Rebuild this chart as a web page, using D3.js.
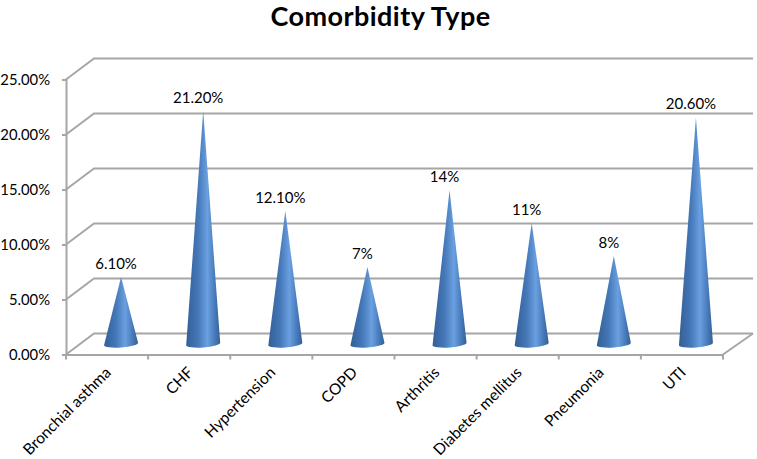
<!DOCTYPE html>
<html>
<head>
<meta charset="utf-8">
<script src="https://d3js.org/d3.v7.min.js"></script>
<style>
html, body { margin: 0; padding: 0; background: #fff; }
svg { display: block; }
text { font-family: Lato, "Open Sans", sans-serif; fill: #000; }
</style>
</head>
<body>
<svg width="757" height="459"></svg>
<script>
var categories = ["Bronchial asthma", "CHF", "Hypertension", "COPD", "Arthritis", "Diabetes mellitus", "Pneumonia", "UTI"];
var values = [6.1, 21.2, 12.1, 7, 14, 11, 8, 20.6];
var valueLabels = ["6.10%", "21.20%", "12.10%", "7%", "14%", "11%", "8%", "20.60%"];
var yTicks = [0, 5, 10, 15, 20, 25];

var svg = d3.select("svg");
var gray = "#a6a6a6";

// 3d offset of the back wall
var depthX = 28, depthY = -21;

var x = d3.scaleBand().domain(categories).range([66, 723]);
var y = d3.scaleLinear().domain([0, 25]).range([354.5, 79.5]);

svg.append("text")
	.attr("x", 380.5).attr("y", 26)
	.attr("text-anchor", "middle")
	.attr("font-size", 27).attr("font-weight", 700)
	.attr("letter-spacing", 0.45)
	.text("Comorbidity Type");

// walls
var walls = svg.append("g").attr("fill", "none").attr("stroke", gray).attr("stroke-width", 2);

walls.selectAll(".grid").data(yTicks).enter().append("path")
	.attr("class", "grid")
	.attr("d", function(d) {
		return "M" + x.range()[0] + "," + y(d) +
			"L" + (x.range()[0] + depthX) + "," + (y(d) + depthY) +
			"H" + (x.range()[1] + depthX + 2);
	});

walls.append("path")
	.attr("d", "M" + x.range()[1] + "," + y(0) + "L" + (x.range()[1] + depthX + 2) + "," + (y(0) + depthY));

// front axes
var yAxis = d3.axisLeft(y).tickValues(yTicks).tickSize(4).tickPadding(12)
	.tickFormat(function(d) { return d3.format(".2f")(d) + "%"; });
var gy = svg.append("g").attr("transform", "translate(" + x.range()[0] + ",0)").call(yAxis);
gy.select(".domain").attr("stroke", gray).attr("stroke-width", 2);
gy.selectAll("line").attr("stroke", gray).attr("stroke-width", 2);
gy.selectAll("text").attr("font-size", 14.8).style("font-family", "Lato");

var xAxis = d3.axisBottom(x).tickSize(0).tickFormat("");
var gx = svg.append("g").attr("transform", "translate(0," + y(0) + ")").call(xAxis);
gx.select(".domain").attr("stroke", gray).attr("stroke-width", 2);

gx.selectAll(".edge").data(d3.range(categories.length + 1)).enter().append("line")
	.attr("class", "edge")
	.attr("x1", function(i) { return x.range()[0] + i * x.bandwidth(); })
	.attr("x2", function(i) { return x.range()[0] + i * x.bandwidth(); })
	.attr("y1", 0).attr("y2", 5)
	.attr("stroke", gray).attr("stroke-width", 2);

// cone shading
var defs = svg.append("defs");
var grad = defs.append("linearGradient").attr("id", "cone").attr("x1", 0).attr("x2", 1).attr("y1", 0).attr("y2", 0);
grad.append("stop").attr("offset", "0%").attr("stop-color", "#345f96");
grad.append("stop").attr("offset", "35%").attr("stop-color", "#4478b8");
grad.append("stop").attr("offset", "62%").attr("stop-color", "#6a9fe0");
grad.append("stop").attr("offset", "85%").attr("stop-color", "#4679ba");
grad.append("stop").attr("offset", "100%").attr("stop-color", "#33608f");

var coneR = 17, coneRy = 3.5;
var zeroY = y(0) + depthY / 2;

svg.selectAll(".cone").data(values).enter().append("path")
	.attr("class", "cone")
	.attr("fill", "url(#cone)")
	.attr("d", function(d, i) {
		var cx = x(categories[i]) + x.bandwidth() / 2 + depthX / 2;
		var tip = y(d) + depthY / 2;
		// base is slightly tilted, right end sits higher
		return "M" + cx + "," + tip +
			"L" + (cx + coneR) + "," + (zeroY - 1.2) +
			"A" + coneR + "," + coneRy + " -4 0 1 " + (cx - coneR) + "," + (zeroY + 1.2) + "Z";
	});

svg.selectAll(".val").data(values).enter().append("text")
	.attr("class", "val")
	.attr("x", function(d, i) { return x(categories[i]) + x.bandwidth() / 2 + depthX / 2 - 5; })
	.attr("y", function(d) { return y(d) + depthY / 2 - 8; })
	.attr("text-anchor", "middle")
	.attr("font-size", 15)
	.text(function(d, i) { return valueLabels[i]; });

svg.selectAll(".cat").data(categories).enter().append("text")
	.attr("class", "cat")
	.attr("text-anchor", "end")
	.attr("font-size", 15.5)
	.attr("transform", function(d) {
		return "translate(" + (x(d) + x.bandwidth() / 2 + 5) + "," + (y(0) + 19) + ") rotate(-45)";
	})
	.text(function(d) { return d; });
</script>
</body>
</html>
